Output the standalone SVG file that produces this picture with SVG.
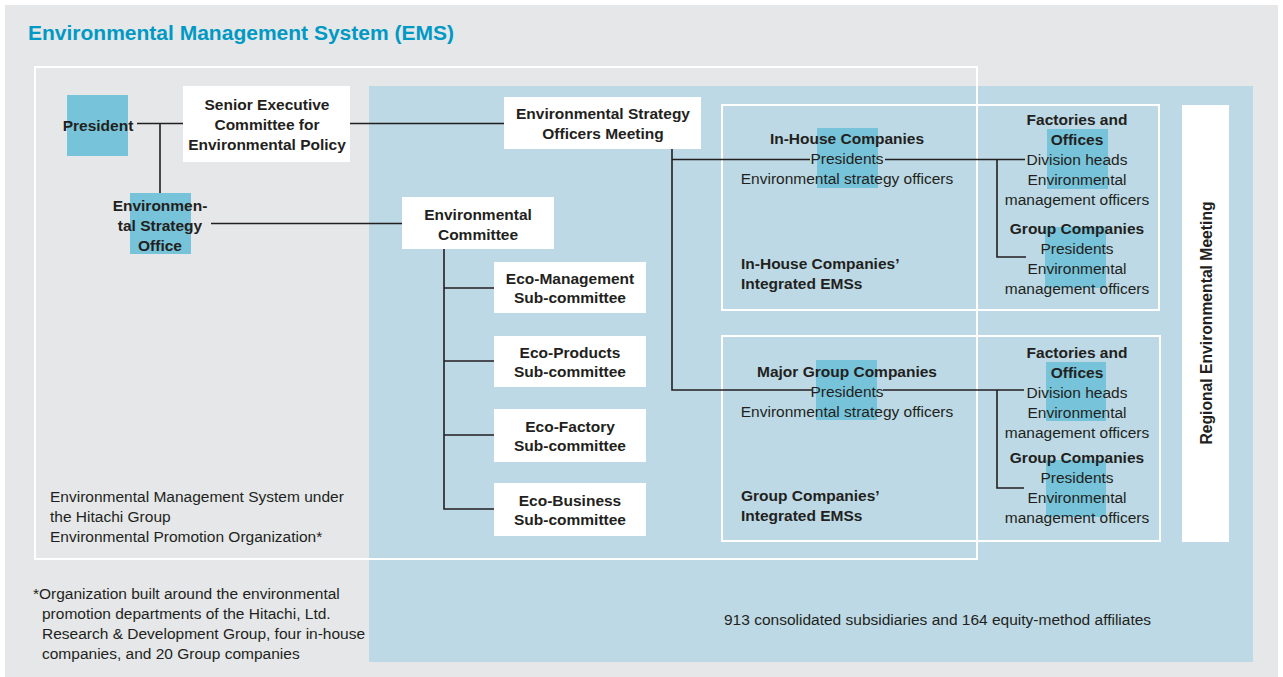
<svg xmlns="http://www.w3.org/2000/svg" width="1283" height="677" viewBox="0 0 1283 677">
<style>
text{font-family:"Liberation Sans",Arial,sans-serif;fill:#231f20;font-size:15.5px}
.b{font-weight:bold}
.c{text-anchor:middle}
.box{fill:#ffffff}
.hl{fill:#76c3da}
.frame{fill:none;stroke:#ffffff;stroke-width:2}
.ln{fill:none;stroke:#231f20;stroke-width:1.6}
</style>
<rect x="0" y="0" width="1283" height="677" fill="#ffffff"/>
<rect x="5" y="5" width="1273" height="672" fill="#e5e7e9"/>
<text x="28" y="40" class="b" style="font-size:21px;fill:#0099c4">Environmental Management System (EMS)</text>
<rect x="369" y="86" width="884" height="576" fill="#bcd9e5"/>
<rect x="35" y="67" width="942" height="492" class="frame"/>
<rect x="722" y="105" width="437" height="205" class="frame"/>
<rect x="722" y="336" width="438" height="205" class="frame"/>

<g id="connectors">
<path class="ln" d="M137,123.5 H183 M160,123.5 V193 M350,123.5 H504 M211,223.5 H402"/>
<path class="ln" d="M672,149 V390 H812 M672,159.5 H810"/>
<path class="ln" d="M885,159.5 H1025 M997,159.5 V257 H1026"/>
<path class="ln" d="M883,390 H1024 M997,390 V488 H1024"/>
<path class="ln" d="M444,249 V509 H494 M444,288 H494 M444,361 H494 M444,435 H494"/>
</g>

<g id="president">
<rect x="67" y="95" width="61" height="61" class="hl"/>
<text x="98" y="131" class="b c">President</text>
</g>
<g id="senior-committee">
<rect x="183" y="86" width="167" height="76" class="box"/>
<text x="267" y="110" class="b c">Senior Executive</text>
<text x="267" y="130" class="b c">Committee for</text>
<text x="267" y="150" class="b c">Environmental Policy</text>
</g>
<g id="strategy-office">
<rect x="130" y="193" width="61" height="61" class="hl"/>
<text x="160" y="211" class="b c">Environmen-</text>
<text x="160" y="231" class="b c">tal Strategy</text>
<text x="160" y="251" class="b c">Office</text>
</g>
<g id="officers-meeting">
<rect x="504" y="97" width="197" height="52" class="box"/>
<text x="603" y="119" class="b c">Environmental Strategy</text>
<text x="603" y="139" class="b c">Officers Meeting</text>
</g>
<g id="env-committee">
<rect x="402" y="197" width="152" height="52" class="box"/>
<text x="478" y="220" class="b c">Environmental</text>
<text x="478" y="240" class="b c">Committee</text>
</g>
<g id="eco-management">
<rect x="494" y="262" width="152" height="51" class="box"/>
<text x="570" y="284" class="b c">Eco-Management</text>
<text x="570" y="303" class="b c">Sub-committee</text>
</g>
<g id="eco-products">
<rect x="494" y="336" width="152" height="51" class="box"/>
<text x="570" y="358" class="b c">Eco-Products</text>
<text x="570" y="377" class="b c">Sub-committee</text>
</g>
<g id="eco-factory">
<rect x="494" y="409" width="152" height="53" class="box"/>
<text x="570" y="432" class="b c">Eco-Factory</text>
<text x="570" y="451" class="b c">Sub-committee</text>
</g>
<g id="eco-business">
<rect x="494" y="483" width="152" height="53" class="box"/>
<text x="570" y="506" class="b c">Eco-Business</text>
<text x="570" y="525" class="b c">Sub-committee</text>
</g>

<g id="inhouse-companies">
<rect x="817" y="128" width="61" height="60" class="hl"/>
<text x="847" y="144" class="b c">In-House Companies</text>
<text x="847" y="164" class="c">Presidents</text>
<text x="847" y="184" class="c">Environmental strategy officers</text>
</g>
<g id="inhouse-ems-label">
<text x="741" y="269" class="b">In-House Companies’</text>
<text x="741" y="289" class="b">Integrated EMSs</text>
</g>
<g id="inhouse-factories">
<rect x="1047" y="129" width="61" height="60" class="hl"/>
<text x="1077" y="125" class="b c">Factories and</text>
<text x="1077" y="145" class="b c">Offices</text>
<text x="1077" y="165" class="c">Division heads</text>
<text x="1077" y="185" class="c">Environmental</text>
<text x="1077" y="205" class="c">management officers</text>
</g>
<g id="inhouse-group">
<rect x="1045" y="227" width="61" height="61" class="hl"/>
<text x="1077" y="234" class="b c">Group Companies</text>
<text x="1077" y="254" class="c">Presidents</text>
<text x="1077" y="274" class="c">Environmental</text>
<text x="1077" y="294" class="c">management officers</text>
</g>

<g id="major-group-companies">
<rect x="816" y="360" width="61" height="60" class="hl"/>
<text x="847" y="377" class="b c">Major Group Companies</text>
<text x="847" y="397" class="c">Presidents</text>
<text x="847" y="417" class="c">Environmental strategy officers</text>
</g>
<g id="group-ems-label">
<text x="741" y="501" class="b">Group Companies’</text>
<text x="741" y="521" class="b">Integrated EMSs</text>
</g>
<g id="group-factories">
<rect x="1046" y="362" width="60" height="59" class="hl"/>
<text x="1077" y="358" class="b c">Factories and</text>
<text x="1077" y="378" class="b c">Offices</text>
<text x="1077" y="398" class="c">Division heads</text>
<text x="1077" y="418" class="c">Environmental</text>
<text x="1077" y="438" class="c">management officers</text>
</g>
<g id="group-group">
<rect x="1046" y="460" width="60" height="57" class="hl"/>
<text x="1077" y="463" class="b c">Group Companies</text>
<text x="1077" y="483" class="c">Presidents</text>
<text x="1077" y="503" class="c">Environmental</text>
<text x="1077" y="523" class="c">management officers</text>
</g>

<g id="regional-meeting">
<rect x="1182" y="105" width="47" height="437" class="box"/>
<text transform="translate(1212,323) rotate(-90)" class="b c" style="font-size:15.7px">Regional Environmental Meeting</text>
</g>

<g id="labels">
<text x="50" y="502">Environmental Management System under</text>
<text x="50" y="522">the Hitachi Group</text>
<text x="50" y="542">Environmental Promotion Organization*</text>
<text x="33" y="599">*Organization built around the environmental</text>
<text x="42" y="619">promotion departments of the Hitachi, Ltd.</text>
<text x="42" y="639">Research &amp; Development Group, four in-house</text>
<text x="42" y="659">companies, and 20 Group companies</text>
<text x="724" y="625">913 consolidated subsidiaries and 164 equity-method affiliates</text>
</g>
</svg>
